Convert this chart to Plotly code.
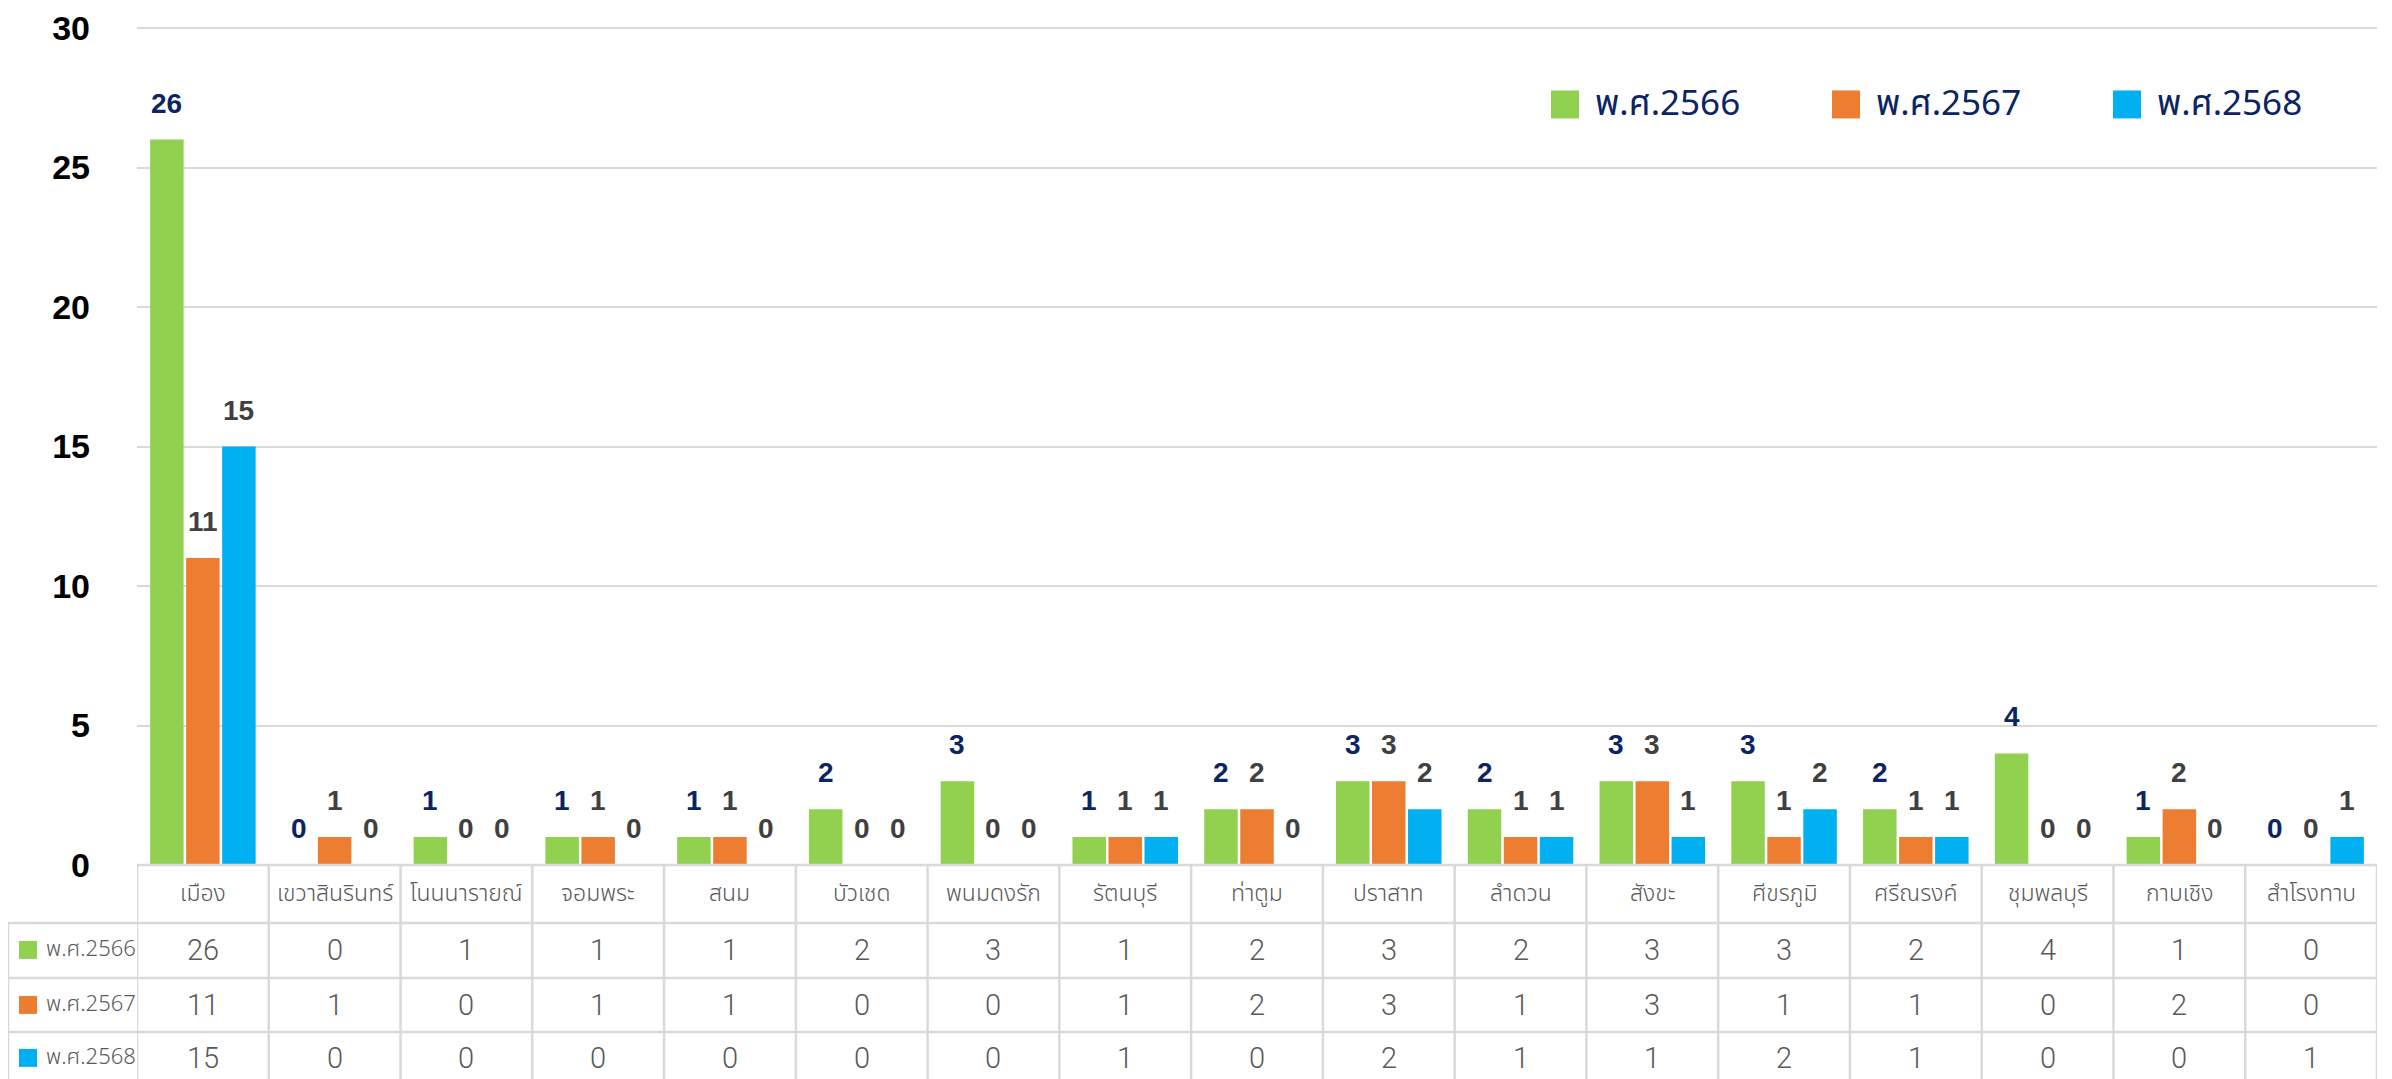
import plotly.graph_objects as go

# ---------------- data ----------------
categories = ["เมือง", "เขวาสินรินทร์", "โนนนารายณ์", "จอมพระ", "สนม", "บัวเชด",
              "พนมดงรัก", "รัตนบุรี", "ท่าตูม", "ปราสาท", "ลำดวน", "สังขะ",
              "ศีขรภูมิ", "ศรีณรงค์", "ชุมพลบุรี", "กาบเชิง", "สำโรงทาบ"]
series_names = ["พ.ศ.2566", "พ.ศ.2567", "พ.ศ.2568"]
values_2566 = [26, 0, 1, 1, 1, 2, 3, 1, 2, 3, 2, 3, 3, 2, 4, 1, 0]
values_2567 = [11, 1, 0, 1, 1, 0, 0, 1, 2, 3, 1, 3, 1, 1, 0, 2, 0]
values_2568 = [15, 0, 0, 0, 0, 0, 0, 1, 0, 2, 1, 1, 2, 1, 0, 0, 1]
y_ticks = [0, 5, 10, 15, 20, 25, 30]

series_values = [values_2566, values_2567, values_2568]

# ---------------- style ----------------
colors = ["#92D050", "#ED7D31", "#00B0F0"]
label_colors = ["#0B2563", "#404040", "#404040"]
grid_color = "#D9D9D9"
table_text = "#595959"
THAI = "Noto Sans Thai, Leelawadee UI, Tahoma, Noto Sans, sans-serif"

# the page body has an 8px margin: work in screen pixels and subtract it
OFF = 8
SCREEN_W, SCREEN_H = 2392, 1079
W, H = SCREEN_W - OFF, SCREEN_H - OFF

PLOT_LEFT, PLOT_RIGHT = 137, 2377          # screen px
PLOT_BOTTOM, Y30 = 865, 27.5               # screen px of value 0 and value 30
PLOT_TOP = 24.5
unit = (PLOT_BOTTOM - Y30) / 30.0
y_top = (PLOT_BOTTOM - PLOT_TOP) / unit

L = PLOT_LEFT - OFF
R = SCREEN_W - PLOT_RIGHT
T = PLOT_TOP - OFF
B = SCREEN_H - PLOT_BOTTOM
PW = PLOT_RIGHT - PLOT_LEFT
PH = PLOT_BOTTOM - PLOT_TOP
BARGAP = 0.18


def px_x(px):
    return (px - PLOT_LEFT) / PW


def px_y(py):
    return (PLOT_BOTTOM - py) / PH


fig = go.Figure()
for name, vals, col in zip(series_names, series_values, colors):
    fig.add_trace(go.Bar(
        x=categories, y=vals, name=name,
        marker=dict(color=col, line=dict(width=0)),
        showlegend=False, hoverinfo="x+y+name",
    ))

annotations = []
shapes = []

# data labels above bars
cat_w = PW / len(categories)
slot = cat_w * (1 - BARGAP) / 3
for s, vals in enumerate(series_values):
    for c, v in zip(categories, vals):
        annotations.append(dict(
            x=c, y=v, xref="x", yref="y", text=str(v), showarrow=False,
            xanchor="center", yanchor="bottom", xshift=(s - 1) * slot, yshift=19,
            font=dict(family="Liberation Sans, Arial", size=28, color=label_colors[s], weight=700),
        ))

# custom legend (top right)
leg_x = [1551, 1832, 2113]
for name, col, lx in zip(series_names, colors, leg_x):
    shapes.append(dict(type="rect", xref="paper", yref="paper",
                       x0=px_x(lx), x1=px_x(lx + 28), y0=px_y(118), y1=px_y(90),
                       fillcolor=col, line=dict(width=0)))
    annotations.append(dict(
        x=px_x(lx + 42), y=px_y(104), xref="paper", yref="paper", text=name,
        showarrow=False, xanchor="left", yanchor="middle",
        font=dict(family=THAI, size=35, color="#0B2563"),
    ))

# ---------------- data table ----------------
row_lines = [923, 978, 1032, 1087]
row_centers = [894, 950, 1005, 1058]
line_style = dict(color=grid_color, width=2.5)

shapes.append(dict(type="line", xref="paper", yref="paper",
                   x0=0, x1=1, y0=px_y(865), y1=px_y(865), line=line_style, layer="above"))
for ry in row_lines:
    shapes.append(dict(type="line", xref="paper", yref="paper",
                       x0=px_x(8), x1=1, y0=px_y(ry), y1=px_y(ry), line=line_style))
for i in range(len(categories) + 1):
    shapes.append(dict(type="line", xref="x", yref="paper",
                       x0=i - 0.5, x1=i - 0.5, y0=px_y(865), y1=px_y(1090), line=line_style))
shapes.append(dict(type="line", xref="paper", yref="paper",
                   x0=px_x(8), x1=px_x(8), y0=px_y(923), y1=px_y(1090), line=line_style))

for c in categories:
    annotations.append(dict(
        x=c, y=px_y(row_centers[0]), xref="x", yref="paper", text=c, showarrow=False,
        xanchor="center", yanchor="middle",
        font=dict(family=THAI, size=23, color=table_text, weight=300),
    ))

for s, (name, vals, col) in enumerate(zip(series_names, series_values, colors)):
    cy = row_centers[s + 1]
    shapes.append(dict(type="rect", xref="paper", yref="paper",
                       x0=px_x(19), x1=px_x(37), y0=px_y(cy + 9), y1=px_y(cy - 9),
                       fillcolor=col, line=dict(width=0)))
    annotations.append(dict(
        x=px_x(44), y=px_y(cy), xref="paper", yref="paper", text=name, showarrow=False,
        xanchor="left", yanchor="middle",
        font=dict(family=THAI, size=22, color=table_text, weight=300),
    ))
    for c, v in zip(categories, vals):
        annotations.append(dict(
            x=c, y=px_y(cy), xref="x", yref="paper", text=str(v), showarrow=False,
            xanchor="center", yanchor="middle",
            font=dict(family="Roboto, Liberation Sans", size=29, color=table_text, weight=300),
        ))

fig.update_layout(
    width=W, height=H,
    margin=dict(l=L, r=R, t=T, b=B, pad=0, autoexpand=False),
    paper_bgcolor="white", plot_bgcolor="white",
    barmode="group", bargap=BARGAP, bargroupgap=0.07,
    xaxis=dict(range=[-0.5, len(categories) - 0.5], showticklabels=False,
               showgrid=False, zeroline=False, showline=False, ticks=""),
    yaxis=dict(range=[0, y_top], tickvals=y_ticks, ticktext=[str(t) for t in y_ticks],
               showgrid=True, gridcolor=grid_color, gridwidth=2, zeroline=False,
               showline=False, ticks="", ticklabelstandoff=46,
               tickfont=dict(family="Liberation Sans, Arial", size=34, color="black", weight=700)),
    annotations=annotations,
    shapes=shapes,
    showlegend=False,
)

fig.write_html("out.html")
